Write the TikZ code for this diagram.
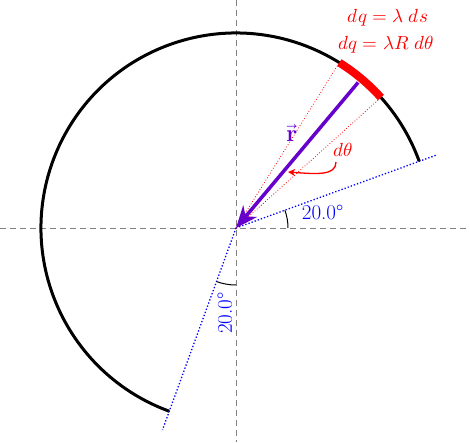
\documentclass[tikz,border=0pt]{standalone}
\usepackage{fontspec}
\usepackage{unicode-math}
\usetikzlibrary{arrows.meta}
\definecolor{vio}{RGB}{102,0,204}
\begin{document}
\begin{tikzpicture}[x=1pt,y=1pt,
  axis/.style={gray,dashed,line width=1pt,dash pattern=on 6pt off 4pt},
  bluedot/.style={blue,dotted,line width=1.3pt},
  reddot/.style={red,dotted,line width=0.8pt},
  lbl/.style={font=\fontsize{19}{22}\selectfont},
  anglbl/.style={blue,font=\fontsize{21}{24}\selectfont}]
\useasboundingbox (-236,-214) rectangle (234,228);
\coordinate (O) at (0,0);
\coordinate (L) at (-236,0);
\coordinate (Rr) at (234,0);
\coordinate (T) at (0,228);
\coordinate (B) at (0,-214);
\draw[axis] (L) -- (Rr);
\draw[axis] (T) -- (B);
% main arc
\draw[line width=3pt] (20:195) arc (20:250:195);
\draw[red,line width=8pt] (42:195) arc (42:58:195);
% dotted lines
\coordinate (E1) at (20:214);
\coordinate (E2) at (250:215);
\draw[bluedot] (O) -- (E1);
\draw[bluedot] (O) -- (E2);
\coordinate (D1) at (42:195);
\coordinate (D2) at (58:195);
\draw[reddot] (O) -- (D1);
\draw[reddot] (O) -- (D2);
% angle arcs
\draw[line width=1pt] (0:52) arc (0:20:52);
\draw[line width=1pt] (250:57) arc (250:270:57);
\node[anglbl] (a1) at (10:88) {20.0°};
\node[anglbl,rotate=90] (a2) at (262.5:86) {20.0°};
% r vector
\coordinate (S) at (50:190);
\draw[vio,line width=3.5pt,-{Stealth[length=22pt,width=18pt]}] (S) -- (O);
\node[vio,font=\fontsize{24}{26}\selectfont] (r) at (56,95) {$\vec{\mathbf{r}}$};
% dtheta
\node[red,lbl] (dt) at (107,78) {$d\theta$};
\coordinate (h0) at (100,66);
\coordinate (h) at (52,56);
\draw[red,line width=1.3pt,-{Stealth[length=7pt,width=7pt,inset=2pt]}] (h0) .. controls (100,52) and (80,54) .. (h);
% labels
\node[red,lbl] (q1) at (152,210) {$dq=\lambda\;ds$};
\node[red,lbl] (q2) at (150,183) {$dq=\lambda R\;d\theta$};
\end{tikzpicture}
\end{document}
